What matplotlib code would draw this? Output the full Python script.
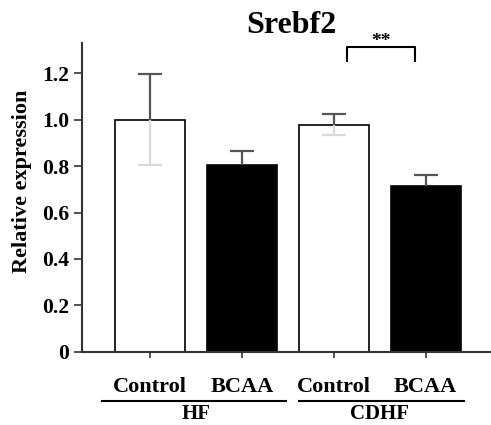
import matplotlib
matplotlib.use('Agg')
import matplotlib.pyplot as plt

plt.rcParams['font.family'] = ['Liberation Serif', 'DejaVu Serif']
plt.rcParams['font.weight'] = 'bold'

# Data
labels = ['Control', 'BCAA', 'Control', 'BCAA']
groups = ['HF', 'CDHF']
means = [1.0, 0.805, 0.978, 0.715]
errs = [0.195, 0.06, 0.046, 0.045]
colors = ['white', 'black', 'white', 'black']
yticks = [0, 0.2, 0.4, 0.6, 0.8, 1.0, 1.2]
ytick_labels = ['0', '0.2', '0.4', '0.6', '0.8', '1.0', '1.2']

fig = plt.figure(figsize=(4.91, 4.25), dpi=100)
ax = fig.add_axes([0.167, 0.172, 0.831, 0.727])

x = list(range(len(means)))
ax.bar(x, means, width=0.76, color=colors, edgecolor='black', linewidth=1.2, zorder=2)

# error bars: upper part dark gray, lower part (visible on white bars) light gray
cap = 0.13
for i in range(len(means)):
    top = means[i] + errs[i]
    ax.vlines(x[i], means[i], top, color='#555555', lw=1.6, zorder=3)
    ax.hlines(top, x[i] - cap, x[i] + cap, color='#555555', lw=1.6, zorder=3)
    if colors[i] == 'white':
        low = means[i] - errs[i]
        ax.vlines(x[i], low, means[i], color='#d9d9d9', lw=1.6, zorder=3)
        ax.hlines(low, x[i] - cap, x[i] + cap, color='#d9d9d9', lw=1.6, zorder=3)

ax.set_xlim(-0.74, 3.70)
ax.set_ylim(0, 1.33)
ax.set_yticks(yticks)
ax.set_yticklabels(ytick_labels, fontsize=15.5, fontweight='bold')
ax.set_xticks(x)
ax.set_xticklabels(labels, fontsize=16, fontweight='bold')
ax.tick_params(axis='x', direction='out', length=4, width=1.2, pad=14, colors='#333333',
               labelcolor='black')
ax.tick_params(axis='y', direction='out', length=6, width=1.2, pad=3, colors='#333333',
               labelcolor='black')

for s in ['top', 'right']:
    ax.spines[s].set_visible(False)
for s in ['left', 'bottom']:
    ax.spines[s].set_linewidth(1.5)
    ax.spines[s].set_color('#333333')

ax.set_ylabel('Relative expression', fontsize=16, fontweight='bold')
ax.yaxis.set_label_coords(-0.122, 0.553)
ax.set_title('Srebf2', fontsize=23, fontweight='bold', pad=7, x=0.512)

# group labels under the x tick labels
tr = ax.get_xaxis_transform()
group_spans = [(-0.52, 1.48), (1.62, 3.42)]
group_centers = [0.5, 2.5]
for (a, b), c, g in zip(group_spans, group_centers, groups):
    ax.plot([a, b], [-0.158, -0.158], color='black', lw=1.5, transform=tr, clip_on=False)
    ax.text(c, -0.218, g, transform=tr, ha='center', va='baseline', fontsize=15,
            fontweight='bold')

# significance bracket
ax.plot([2.14, 2.14, 2.88, 2.88], [1.252, 1.312, 1.312, 1.252], color='black', lw=1.5,
        clip_on=False, zorder=4)
ax.text(2.51, 1.30, '**', ha='center', va='bottom', fontsize=14, fontweight='bold')

fig.savefig('out.png', dpi=100)
